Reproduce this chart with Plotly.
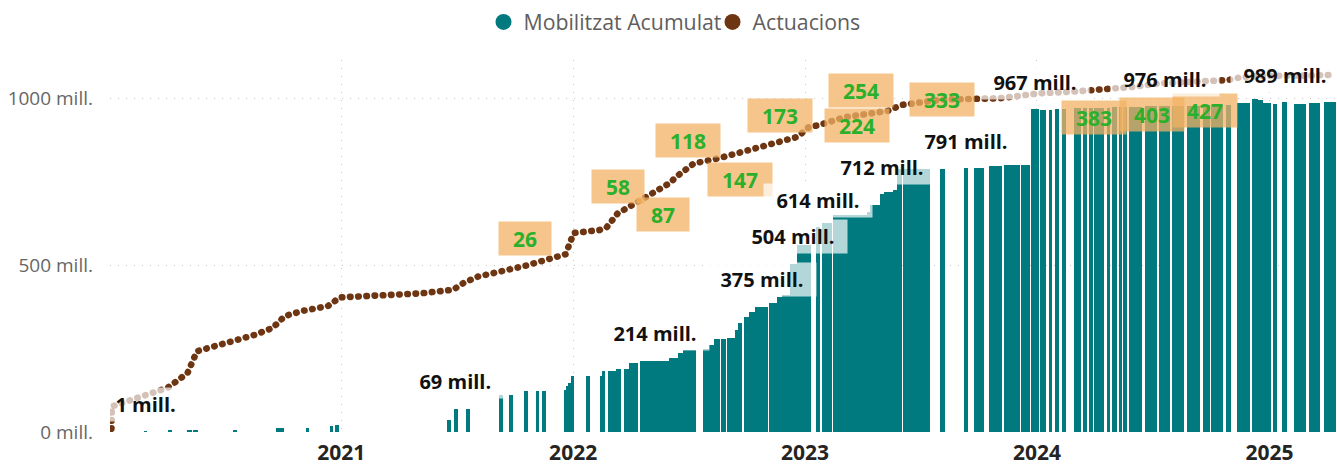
import numpy as np
import pandas as pd
import plotly.graph_objects as go

# ---------------- data ----------------
bar_start = [
    "2020-02-26", "2020-04-03", "2020-05-03", "2020-05-12", "2020-07-15", "2020-09-20", "2020-11-06", "2020-12-14",
    "2020-12-22", "2021-06-16", "2021-06-27", "2021-07-16", "2021-09-06", "2021-09-22", "2021-10-15", "2021-11-03",
    "2021-11-13", "2021-12-17", "2021-12-21", "2021-12-24", "2021-12-28", "2022-01-21", "2022-02-13", "2022-02-16",
    "2022-02-25", "2022-03-09", "2022-03-22", "2022-03-30", "2022-04-17", "2022-06-01", "2022-06-15", "2022-06-23",
    "2022-07-25", "2022-08-03", "2022-08-10", "2022-08-21", "2022-08-31", "2022-09-14", "2022-09-17", "2022-09-27",
    "2022-10-05", "2022-10-15", "2022-11-06", "2022-11-18", "2022-11-26", "2022-12-08", "2022-12-19", "2023-01-19",
    "2023-01-28", "2023-02-14", "2023-04-10", "2023-04-13", "2023-04-29", "2023-05-06", "2023-05-19", "2023-05-25",
    "2023-06-04", "2023-08-02", "2023-09-08", "2023-09-24", "2023-10-17", "2023-11-10", "2023-12-07", "2023-12-23",
    "2024-01-06", "2024-01-20", "2024-01-29", "2024-02-10", "2024-02-28", "2024-03-13", "2024-03-23", "2024-03-31",
    "2024-04-20", "2024-04-28", "2024-05-09", "2024-05-16", "2024-05-25", "2024-06-19", "2024-07-11", "2024-08-01",
    "2024-08-24", "2024-09-18", "2024-10-01", "2024-10-24", "2024-11-11", "2024-12-05", "2024-12-14", "2024-12-22",
    "2025-01-07", "2025-01-21", "2025-02-08", "2025-03-04", "2025-03-27",
]
bar_end = [
    "2020-03-02", "2020-04-09", "2020-05-11", "2020-05-21", "2020-07-21", "2020-10-03", "2020-11-11", "2020-12-19",
    "2020-12-28", "2021-06-22", "2021-07-03", "2021-07-23", "2021-09-12", "2021-09-28", "2021-10-22", "2021-11-09",
    "2021-11-19", "2021-12-21", "2021-12-24", "2021-12-28", "2022-01-03", "2022-01-27", "2022-02-16", "2022-02-20",
    "2022-03-09", "2022-03-18", "2022-03-30", "2022-04-13", "2022-06-01", "2022-06-15", "2022-06-23", "2022-07-13",
    "2022-08-03", "2022-08-10", "2022-08-20", "2022-08-29", "2022-09-14", "2022-09-17", "2022-09-23", "2022-10-05",
    "2022-10-15", "2022-11-04", "2022-11-18", "2022-11-26", "2022-12-08", "2022-12-19", "2023-01-11", "2023-01-25",
    "2023-02-13", "2023-04-09", "2023-04-13", "2023-04-29", "2023-05-06", "2023-05-19", "2023-05-25", "2023-06-03",
    "2023-07-16", "2023-08-09", "2023-09-14", "2023-10-09", "2023-11-07", "2023-12-05", "2023-12-21", "2024-01-04",
    "2024-01-15", "2024-01-25", "2024-02-04", "2024-02-16", "2024-03-11", "2024-03-20", "2024-03-29", "2024-04-16",
    "2024-04-25", "2024-05-06", "2024-05-14", "2024-05-22", "2024-06-15", "2024-07-08", "2024-07-29", "2024-08-19",
    "2024-09-13", "2024-09-29", "2024-10-20", "2024-11-01", "2024-12-02", "2024-12-14", "2024-12-22", "2025-01-04",
    "2025-01-12", "2025-01-29", "2025-02-28", "2025-03-22", "2025-04-15",
]
bar_value = [
    1, 5, 6, 6, 4, 12, 12, 18,
    20, 35, 69, 70, 110, 110, 122, 122,
    122, 125, 137, 147, 167, 167, 167, 183,
    183, 188, 188, 207, 214, 222, 237, 245,
    250, 260, 280, 280, 282, 305, 327, 345,
    360, 375, 387, 405, 412, 504, 560, 614,
    625, 650, 659, 679, 712, 719, 726, 789,
    789, 789, 791, 792, 797, 800, 801, 967,
    965, 966, 967, 968, 970, 970, 971, 972,
    972, 973, 974, 974, 975, 976, 976, 977,
    978, 979, 980, 981, 987, 998, 994, 985,
    984, 989, 984, 987, 989,
]
# bars whose value is written above them (by start date)
bar_labelled = ["2020-02-26", "2021-06-27", "2022-04-17", "2022-10-15", "2022-12-08", "2023-01-19",
                "2023-04-29", "2023-09-08", "2023-12-23", "2024-07-11", "2025-01-21"]

line_date = [
    "2020-01-04", "2020-01-06", "2020-04-03", "2020-05-04", "2020-05-19", "2020-07-10", "2020-08-18", "2020-09-15",
    "2020-10-04", "2020-11-01", "2020-12-11", "2020-12-30", "2021-05-05", "2021-06-26", "2021-07-13", "2021-08-04",
    "2021-10-18", "2021-12-20", "2022-01-02", "2022-02-12", "2022-02-23", "2022-03-12", "2022-03-31", "2022-05-22",
    "2022-06-03", "2022-06-11", "2022-06-30", "2022-07-10", "2022-08-17", "2022-09-20", "2022-11-22", "2022-12-20",
    "2023-01-08", "2023-01-21", "2023-03-04", "2023-04-28", "2023-05-11", "2023-06-02", "2023-06-27", "2023-08-04",
    "2023-11-03", "2024-01-05", "2024-02-25", "2024-03-31", "2024-05-26", "2024-07-12", "2024-10-02", "2024-10-28",
    "2024-11-16", "2024-12-20", "2025-02-22", "2025-04-13",
]
line_value = [
    1, 3, 4, 5, 7, 8, 9, 10,
    12, 13, 14, 16, 17, 18, 20, 22,
    26, 31, 43, 45, 47, 58, 65, 87,
    93, 101, 118, 125, 135, 147, 173, 188,
    220, 224, 254, 272, 280, 307, 318, 333,
    340, 367, 376, 383, 403, 427, 438, 450,
    469, 479, 481, 487,
]
line_labels = [26, 58, 87, 118, 147, 173, 224, 254, 333, 383, 403, 427]
label_place = ["above", "above", "below", "above", "below", "above",
               "center", "above", "center", "below", "below", "below"]
label_xshift = [0, 0, 0, 0, 0, 0, 39, 17, 0, 0, 22, 45]

y_ticks = [0, 500, 1000]
y_text = ["0 mill.", "500 mill.", "1000 mill."]
year_ticks = ["2021-01-01", "2022-01-01", "2023-01-01", "2024-01-01", "2025-01-01"]
year_text = ["2021", "2022", "2023", "2024", "2025"]

# ---------------- style ----------------
TEAL = "#017A7F"
BROWN = "#6E3512"
FONT = "Open Sans, Segoe UI, sans-serif"
GRID = "#C8C6C4"

start = pd.to_datetime(bar_start)
end = pd.to_datetime(bar_end)
width_ms = ((end - start) / pd.Timedelta(milliseconds=1)).tolist()

fig = go.Figure()
fig.add_trace(go.Bar(
    x=bar_start, y=bar_value, width=width_ms, offset=0,
    marker=dict(color=TEAL, line=dict(width=0)),
    name="Mobilitzat Acumulat", showlegend=False, hoverinfo="skip",
))
fig.add_trace(go.Scatter(
    x=line_date, y=line_value, yaxis="y2", mode="lines",
    line=dict(color=BROWN, width=6.6, dash="0.5px,7.7px"),
    name="Actuacions", showlegend=False, hoverinfo="skip",
))
# legend entries (circle symbols), each in its own legend box
for nm, col, lg in [("Mobilitzat Acumulat", TEAL, "legend"), ("Actuacions", BROWN, "legend2")]:
    fig.add_trace(go.Scatter(x=[None], y=[None], mode="markers", name=nm, legend=lg,
                             marker=dict(symbol="circle", size=17, color=col)))

# labels on the line
for v, place, xs in zip(line_labels, label_place, label_xshift):
    i = line_value.index(v)
    ys = {"above": 27, "below": -27, "center": 0}[place]
    fig.add_annotation(
        x=line_date[i], y=np.log10(v), xref="x", yref="y2", text=str(v),
        showarrow=False, xshift=xs, yshift=ys, xanchor="center", yanchor="middle",
        font=dict(size=21, color="#2BB02B", family=FONT, weight="bold"),
        bgcolor="rgba(242,178,100,0.75)", width=12 * len(str(v)) + 20, height=25, borderpad=4,
    )

# labels on the bars
cw = {"m": 18.8, "i": 6.0, "l": 6.0, ".": 5.8, " ": 5.2}
for s in bar_labelled:
    i = bar_start.index(s)
    mid = start[i] + (end[i] - start[i]) / 2
    txt = f"{bar_value[i]} mill."
    tw = sum(cw.get(c, 11.4) for c in txt)
    fig.add_annotation(
        x=mid, y=bar_value[i], xref="x", yref="y", text=txt,
        showarrow=False, yshift=27, xanchor="center", yanchor="middle",
        font=dict(size=20, color="#111111", family=FONT, weight="bold"),
        bgcolor="rgba(255,255,255,0.7)", width=tw + 18, height=25, borderpad=4,
    )

leg_common = dict(orientation="h", xanchor="left", y=1.102, yanchor="middle",
                  font=dict(size=21.3, color="#605E5C", family=FONT),
                  bgcolor="rgba(0,0,0,0)", itemwidth=30)

fig.update_layout(
    width=1337, height=470,
    margin=dict(l=110, r=0, t=60, b=38),
    paper_bgcolor="white", plot_bgcolor="white",
    font=dict(family=FONT),
    bargap=0,
    xaxis=dict(
        type="date", range=["2020-01-03 02:00", "2025-04-17 05:00"],
        tickvals=year_ticks, ticktext=year_text, ticks="",
        tickfont=dict(size=21, color="#252423", family=FONT, weight="bold"),
        showgrid=True, gridcolor=GRID, griddash="1px,7px", gridwidth=1.2,
        zeroline=False, showline=False, ticklabelstandoff=6,
    ),
    yaxis=dict(
        range=[0, 1115], tickvals=y_ticks, ticktext=y_text, ticks="",
        tickfont=dict(size=19, color="#666666", family=FONT),
        showgrid=True, gridcolor=GRID, griddash="1px,7px", gridwidth=1.2,
        zeroline=False, showline=False, ticklabelstandoff=16,
    ),
    yaxis2=dict(type="log", overlaying="y", side="right",
                range=[0.30667, 2.78667], visible=False),
    legend=dict(x=(483.5 - 110) / 1227, **leg_common),
    legend2=dict(x=(712.5 - 110) / 1227, **leg_common),
)

post = """
document.body.style.margin='0';
var gd=document.getElementById('{plot_id}');
function rc(){gd.querySelectorAll('.scatterlayer path.js-line').forEach(function(p){p.style.strokeLinecap='round';});}
rc(); gd.on('plotly_afterplot', rc);
"""
fig.write_html("out.html", post_script=post, config={"displayModeBar": False})
